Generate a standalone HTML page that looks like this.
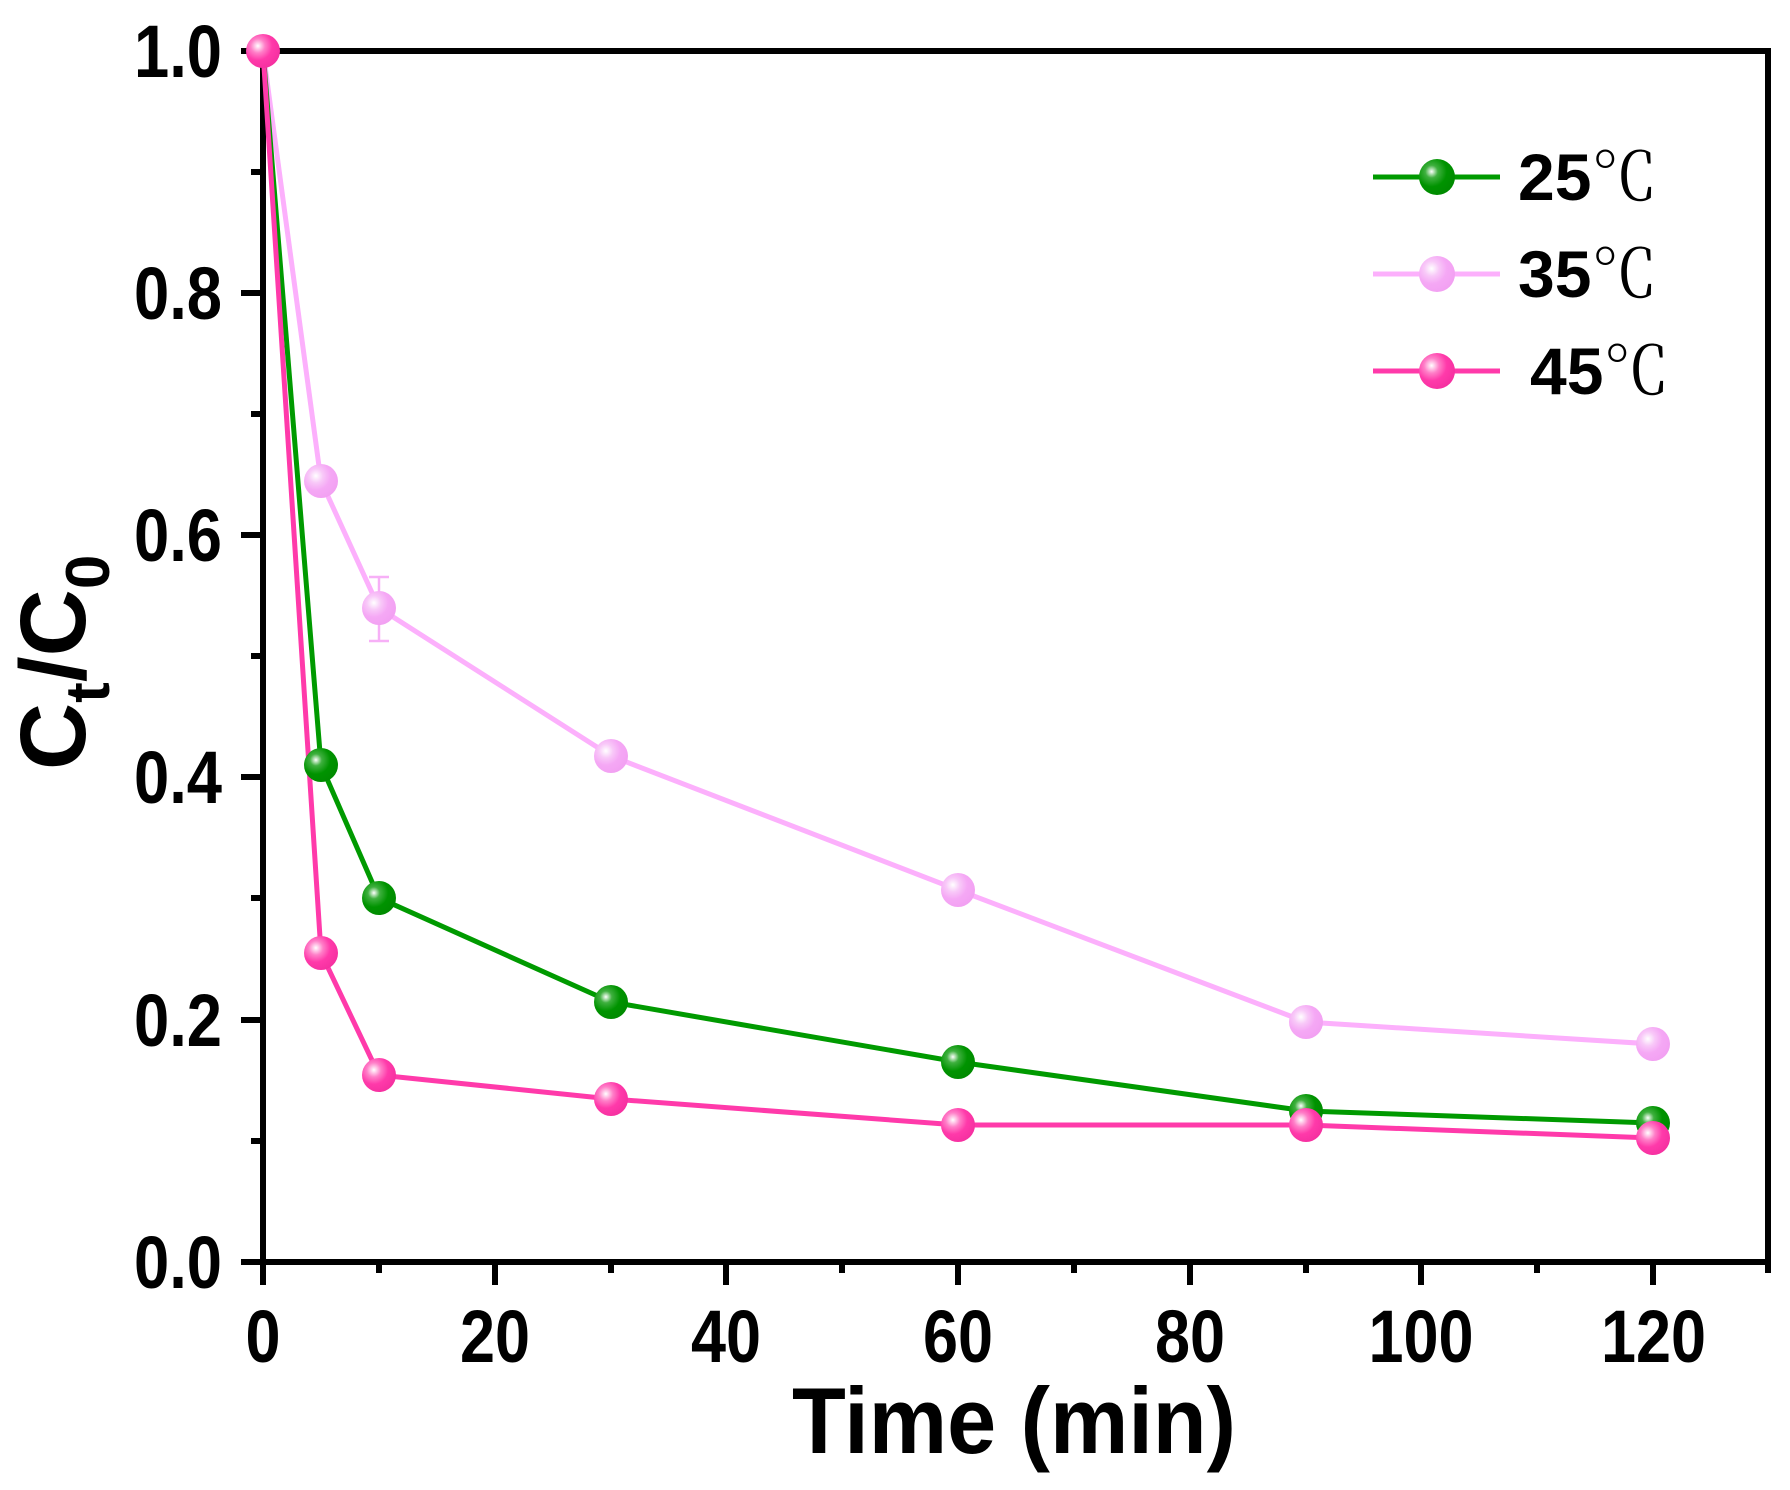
<!DOCTYPE html>
<html><head><meta charset="utf-8"><style>
html,body{margin:0;padding:0;background:#fff;width:1790px;height:1490px;overflow:hidden}
svg{display:block}
text{font-family:"Liberation Sans",Arial,sans-serif;font-weight:bold;fill:#000}
</style></head><body>
<svg width="1790" height="1490" viewBox="0 0 1790 1490" xmlns="http://www.w3.org/2000/svg">
<defs>
<radialGradient id="gG" cx="0.35" cy="0.35" r="0.7"><stop offset="0" stop-color="#fff"/><stop offset="0.25" stop-color="#3fb03f"/><stop offset="0.6" stop-color="#009300"/><stop offset="1" stop-color="#008a00"/></radialGradient>
<radialGradient id="gL" cx="0.35" cy="0.35" r="0.7"><stop offset="0" stop-color="#fff"/><stop offset="0.3" stop-color="#f8c8f8"/><stop offset="0.6" stop-color="#f5a8f5"/><stop offset="1" stop-color="#f2a0f2"/></radialGradient>
<radialGradient id="gP" cx="0.35" cy="0.35" r="0.7"><stop offset="0" stop-color="#fff"/><stop offset="0.3" stop-color="#ff7fc8"/><stop offset="0.6" stop-color="#ff3aaa"/><stop offset="1" stop-color="#f530a0"/></radialGradient>
</defs>

<rect x="263" y="51" width="1505" height="1211" fill="none" stroke="#000" stroke-width="6"/>

<g stroke="#000" stroke-width="6">
<line x1="241" y1="1262" x2="263" y2="1262"/><line x1="241" y1="1020" x2="263" y2="1020"/><line x1="241" y1="777" x2="263" y2="777"/><line x1="241" y1="535" x2="263" y2="535"/><line x1="241" y1="293" x2="263" y2="293"/><line x1="241" y1="51" x2="263" y2="51"/>
<line x1="251" y1="1141" x2="263" y2="1141"/><line x1="251" y1="898" x2="263" y2="898"/><line x1="251" y1="656" x2="263" y2="656"/><line x1="251" y1="414" x2="263" y2="414"/><line x1="251" y1="172" x2="263" y2="172"/>
</g>
<g stroke="#000" stroke-width="6">
<line x1="263" y1="1262" x2="263" y2="1285"/><line x1="495" y1="1262" x2="495" y2="1285"/><line x1="726" y1="1262" x2="726" y2="1285"/><line x1="958" y1="1262" x2="958" y2="1285"/><line x1="1190" y1="1262" x2="1190" y2="1285"/><line x1="1421" y1="1262" x2="1421" y2="1285"/><line x1="1653" y1="1262" x2="1653" y2="1285"/>
<line x1="379" y1="1262" x2="379" y2="1273"/><line x1="611" y1="1262" x2="611" y2="1273"/><line x1="842" y1="1262" x2="842" y2="1273"/><line x1="1074" y1="1262" x2="1074" y2="1273"/><line x1="1306" y1="1262" x2="1306" y2="1273"/><line x1="1537" y1="1262" x2="1537" y2="1273"/><line x1="1768" y1="1262" x2="1768" y2="1273"/>
</g>

<g font-size="74">
<text x="134" y="1288" textLength="88" lengthAdjust="spacingAndGlyphs">0.0</text>
<text x="134" y="1046" textLength="88" lengthAdjust="spacingAndGlyphs">0.2</text>
<text x="134" y="803" textLength="88" lengthAdjust="spacingAndGlyphs">0.4</text>
<text x="134" y="561" textLength="88" lengthAdjust="spacingAndGlyphs">0.6</text>
<text x="134" y="319" textLength="88" lengthAdjust="spacingAndGlyphs">0.8</text>
<text x="134" y="77" textLength="88" lengthAdjust="spacingAndGlyphs">1.0</text>
</g>
<g font-size="74">
<text x="245.5" y="1362" textLength="35" lengthAdjust="spacingAndGlyphs">0</text>
<text x="460" y="1362" textLength="70" lengthAdjust="spacingAndGlyphs">20</text>
<text x="691" y="1362" textLength="70" lengthAdjust="spacingAndGlyphs">40</text>
<text x="923" y="1362" textLength="70" lengthAdjust="spacingAndGlyphs">60</text>
<text x="1155" y="1362" textLength="70" lengthAdjust="spacingAndGlyphs">80</text>
<text x="1368.5" y="1362" textLength="105" lengthAdjust="spacingAndGlyphs">100</text>
<text x="1601" y="1362" textLength="105" lengthAdjust="spacingAndGlyphs">120</text>
</g>

<text x="792" y="1453" font-size="94" textLength="444" lengthAdjust="spacingAndGlyphs">Time (min)</text>
<text transform="translate(85,770) rotate(-90)" font-size="93">C<tspan font-size="62" dy="24">t</tspan><tspan dy="-24">/C</tspan><tspan font-size="62" dy="24">0</tspan></text>

<g stroke="#f7b0f7" stroke-width="2.5">
<line x1="379" y1="577" x2="379" y2="641"/><line x1="369" y1="577" x2="389" y2="577"/><line x1="369" y1="641" x2="389" y2="641"/>
</g>

<polyline fill="none" stroke="#fcb0fc" stroke-width="5" points="263,51 321,481 379,608 611,756 958,890 1306,1022 1653,1044"/>
<polyline fill="none" stroke="#009a00" stroke-width="5" points="263,51 321,765 379,898 611,1002 958,1062 1306,1111 1653,1123"/>
<polyline fill="none" stroke="#ff3aaa" stroke-width="5" points="263,51 321,953 379,1075 611,1099 958,1125 1306,1125 1653,1138"/>

<g fill="url(#gL)">
<circle cx="321" cy="481" r="17"/><circle cx="379" cy="608" r="17"/><circle cx="611" cy="756" r="17"/><circle cx="958" cy="890" r="17"/><circle cx="1306" cy="1022" r="17"/><circle cx="1653" cy="1044" r="17"/>
</g>
<g fill="url(#gG)">
<circle cx="321" cy="765" r="17"/><circle cx="379" cy="898" r="17"/><circle cx="611" cy="1002" r="17"/><circle cx="958" cy="1062" r="17"/><circle cx="1306" cy="1111" r="17"/><circle cx="1653" cy="1123" r="17"/>
</g>
<g fill="url(#gP)">
<circle cx="263" cy="51" r="17"/><circle cx="321" cy="953" r="17"/><circle cx="379" cy="1075" r="17"/><circle cx="611" cy="1099" r="17"/><circle cx="958" cy="1125" r="17"/><circle cx="1306" cy="1125" r="17"/><circle cx="1653" cy="1138" r="17"/>
</g>

<line x1="1373" y1="177" x2="1500" y2="177" stroke="#009a00" stroke-width="5"/>
<circle cx="1437" cy="177" r="18" fill="url(#gG)"/>
<line x1="1373" y1="274" x2="1500" y2="274" stroke="#fcb0fc" stroke-width="5"/>
<circle cx="1437" cy="274" r="18" fill="url(#gL)"/>
<line x1="1373" y1="371" x2="1500" y2="371" stroke="#ff3aaa" stroke-width="5"/>
<circle cx="1437" cy="371" r="18" fill="url(#gP)"/>
<g font-size="66">
<text x="1518" y="200">25<tspan font-family="'Liberation Serif','Noto Serif CJK SC',serif" font-weight="normal">℃</tspan></text>
<text x="1518" y="297">35<tspan font-family="'Liberation Serif','Noto Serif CJK SC',serif" font-weight="normal">℃</tspan></text>
<text x="1530" y="394">45<tspan font-family="'Liberation Serif','Noto Serif CJK SC',serif" font-weight="normal">℃</tspan></text>
</g>
</svg>
</body></html>
